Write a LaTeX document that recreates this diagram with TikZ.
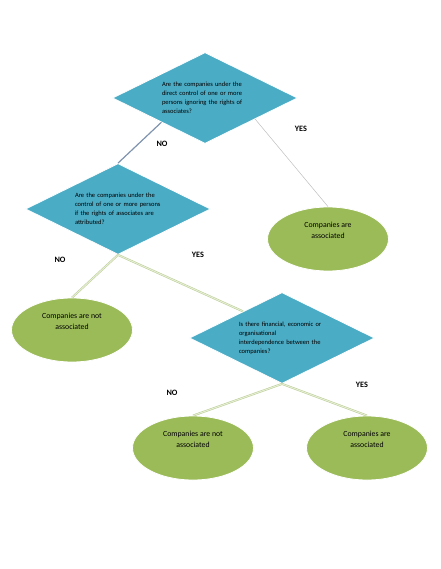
\documentclass[tikz,border=0pt]{standalone}
\usepackage{fontspec}
\setmainfont{Carlito}
\usetikzlibrary{positioning,calc,shapes.geometric}
\definecolor{qfill}{HTML}{4BACC6}
\definecolor{afill}{HTML}{9BBB59}
\definecolor{noline}{HTML}{8093AE}
\definecolor{yesline}{HTML}{BFBFBF}
\definecolor{gredge}{HTML}{B9CC93}
\definecolor{grfill}{HTML}{E6EED5}
\tikzset{
  quest/.style={diamond,aspect=2,fill=qfill,draw=white,line width=.8pt,
    minimum width=185pt,minimum height=91pt,inner sep=0pt,
    text width=86pt,align=left,font=\fontsize{6.5}{9}\selectfont},
  answ/.style={ellipse,fill=afill,draw=white,line width=.8pt,
    minimum width=121pt,minimum height=64pt,inner sep=0pt},
  atext/.style={align=center,font=\fontsize{7.8}{11}\selectfont},
  lbl/.style={font=\bfseries\fontsize{8.2}{10}\selectfont},
  grline/.style={draw=gredge,double=grfill,line width=.5pt,double distance=1pt}
}

\begin{document}
\begin{tikzpicture}[x=1pt,y=-1pt]
\useasboundingbox (0,0) rectangle (440,569);
% questions
\node[quest] (q1) at (205,98) {Are the companies under the\\direct control of one or more\\persons ignoring the rights of\\associates?};
\node[quest] (q2) at (118,209) {Are the companies under the\\control of one or more persons\\if the rights of associates are\\attributed?};
\node[quest] (q3) at (282,338) {Is there financial, economic or\\organisational\\interdependence between the\\companies?};
% answers
\node[answ] (a1) at (328,239) {};
\node[atext] (a1t) at ([yshift=9pt]a1.center) {Companies are\\associated};
\node[answ] (n1) at (72,330) {};
\node[atext] (n1t) at ([yshift=9pt]n1.center) {Companies are not\\associated};
\node[answ] (n2) at (193,448) {};
\node[atext] (n2t) at ([yshift=9pt]n2.center) {Companies are not\\associated};
\node[answ] (a2) at (367,448) {};
\node[atext] (a2t) at ([yshift=9pt]a2.center) {Companies are\\associated};
% connectors
\draw[noline,line width=1.2pt] ($(q1.west)!.53!(q1.south)$) -- (q2.north);
\draw[yesline,line width=.5pt] ($(q1.south)!.54!(q1.east)$) -- (a1.north);
\draw[grline] (q2.south) -- (n1.north);
\draw[grline] (q2.south) -- ($(q3.west)!.58!(q3.north)$);
\draw[grline] (q3.south) -- (n2.north);
\draw[grline] (q3.south) -- (a2.north);
% labels
\node[lbl] (no1) at (162,144) {NO};
\node[lbl] (yes1) at (301,129) {YES};
\node[lbl] (no2) at (60,260) {NO};
\node[lbl] (yes2) at (198,255) {YES};
\node[lbl] (no3) at (172,393) {NO};
\node[lbl] (yes3) at (362,385) {YES};
\end{tikzpicture}
\end{document}
